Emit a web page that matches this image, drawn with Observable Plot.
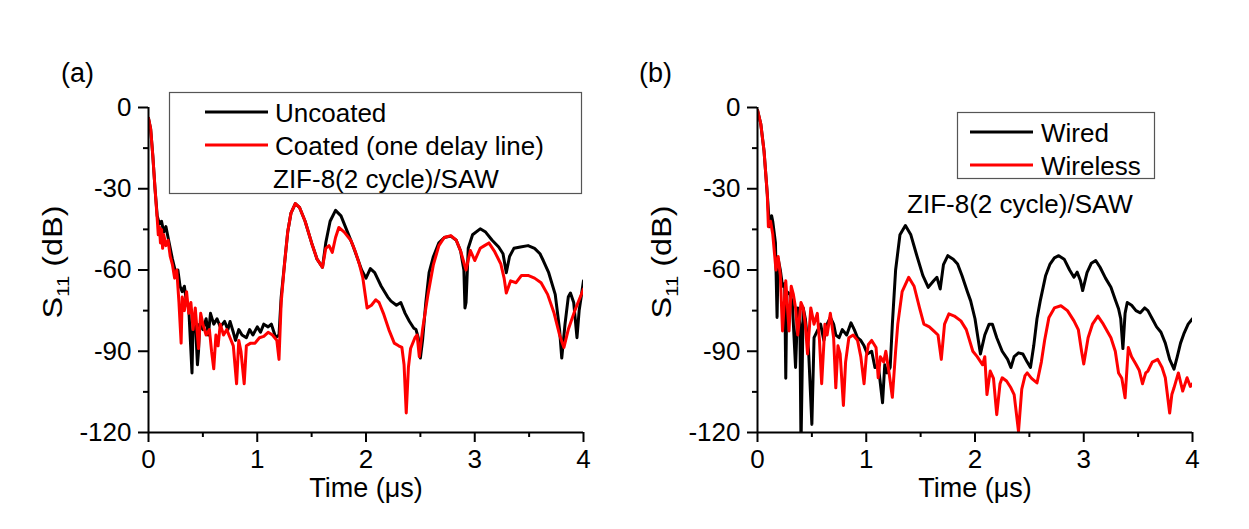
<!DOCTYPE html>
<html><head><meta charset="utf-8">
<script src="https://cdn.jsdelivr.net/npm/d3@7"></script>
<script src="https://cdn.jsdelivr.net/npm/@observablehq/plot@0.6"></script>
<style>
body{margin:0;background:#fff;font-family:"Liberation Sans",Arial,sans-serif;}
#wrap{position:relative;width:1249px;height:529px;overflow:hidden;background:#fff;}
#wrap > svg{position:absolute;top:0;}
</style>
</head><body><div id="wrap"></div>
<script>
// ---- tick values ----
const timeTicks = [0, 1, 2, 3, 4];
const timeMinor = [0.5, 1.5, 2.5, 3.5];
const dbTicks = [0, -30, -60, -90, -120];
const dbMinor = [-15, -45, -75, -105];

// ---- legend / labels ----
const panelLabels = ["(a)", "(b)"];
const legendA = ["Uncoated", "Coated (one delay line)"];
const legendB = ["Wired", "Wireless"];
const sampleNote = "ZIF-8(2 cycle)/SAW";
const xTitle = "Time (μs)";
const seriesColors = ["#000000", "#ff0000"];

// ---- panel (a): [time µs, S11 dB] ----
const aUncoated = [[0,-4],[0.02,-8],[0.04,-18],[0.06,-30],[0.08,-40],[0.10,-43],[0.12,-42],[0.14,-46],[0.16,-44],[0.18,-48],[0.20,-52],[0.22,-56],[0.25,-61],[0.27,-60],[0.29,-66],[0.31,-68],[0.33,-66],[0.35,-72],[0.37,-74],[0.39,-90],[0.40,-98],[0.41,-80],[0.43,-78],[0.45,-95],[0.46,-90],[0.47,-80],[0.50,-82],[0.53,-78],[0.55,-84],[0.57,-76],[0.60,-80],[0.63,-78],[0.66,-81],[0.70,-79],[0.73,-82],[0.75,-79],[0.78,-83],[0.80,-86],[0.83,-82],[0.86,-84],[0.90,-85],[0.93,-82],[0.96,-84],[1.00,-81],[1.03,-83],[1.06,-80],[1.10,-81],[1.13,-80],[1.17,-85],[1.20,-84],[1.22,-70],[1.25,-58],[1.28,-46],[1.31,-39],[1.35,-35.5],[1.39,-37],[1.44,-42],[1.50,-50],[1.55,-56],[1.60,-59],[1.63,-50],[1.67,-42],[1.72,-38],[1.77,-40],[1.82,-45],[1.88,-51],[1.92,-55.5],[1.96,-60],[2.00,-63],[2.04,-59.5],[2.08,-61],[2.14,-66],[2.20,-70],[2.23,-71.5],[2.28,-73],[2.32,-72],[2.36,-76],[2.40,-79],[2.44,-81.5],[2.46,-82],[2.48,-85],[2.50,-92.5],[2.52,-86],[2.55,-72],[2.58,-61],[2.62,-55],[2.67,-50],[2.72,-48],[2.78,-47.5],[2.83,-49],[2.87,-53],[2.90,-60],[2.91,-74],[2.92,-72],[2.94,-52],[2.98,-47],[3.05,-44.8],[3.10,-46],[3.16,-49],[3.22,-51.5],[3.26,-54],[3.29,-61],[3.32,-55],[3.36,-52],[3.42,-51.5],[3.49,-51],[3.55,-52],[3.60,-54],[3.63,-56.5],[3.68,-61],[3.74,-69],[3.78,-82],[3.80,-92.5],[3.83,-80],[3.86,-70],[3.88,-68.5],[3.91,-72],[3.94,-85],[3.96,-75],[4.0,-64]];
const aCoated = [[0,-4],[0.02,-8],[0.04,-18],[0.06,-30],[0.08,-41],[0.09,-47],[0.10,-44],[0.11,-50],[0.12,-45],[0.13,-52],[0.14,-47],[0.16,-51],[0.18,-49],[0.20,-55],[0.22,-58],[0.24,-63],[0.26,-60],[0.28,-72],[0.30,-87],[0.31,-70],[0.33,-75],[0.35,-68],[0.37,-76],[0.39,-72],[0.41,-82],[0.43,-74],[0.46,-89],[0.48,-76],[0.50,-80],[0.53,-84],[0.56,-82],[0.58,-90],[0.60,-96.5],[0.62,-84],[0.64,-88],[0.66,-80],[0.69,-84],[0.72,-82],[0.75,-85],[0.78,-88],[0.81,-102],[0.83,-86],[0.85,-90],[0.88,-102],[0.90,-88],[0.94,-87],[0.98,-87],[1.02,-85],[1.06,-84.5],[1.10,-83],[1.14,-84],[1.18,-86],[1.20,-93],[1.22,-72],[1.25,-58],[1.28,-46],[1.31,-39],[1.35,-35.5],[1.39,-37],[1.44,-42],[1.50,-50],[1.55,-56],[1.60,-59],[1.63,-52],[1.66,-51],[1.69,-53.5],[1.72,-48],[1.75,-44.3],[1.80,-46],[1.86,-49],[1.90,-53],[1.94,-58],[1.97,-62.7],[2.01,-74],[2.05,-73],[2.09,-71],[2.12,-72],[2.16,-76],[2.21,-82],[2.26,-87],[2.30,-88],[2.33,-88.6],[2.35,-95],[2.37,-112.8],[2.39,-96],[2.41,-89],[2.45,-85],[2.47,-84],[2.49,-92],[2.52,-82],[2.57,-69],[2.62,-58],[2.67,-51],[2.72,-48],[2.78,-47.3],[2.83,-49],[2.87,-53],[2.92,-60],[2.96,-52.8],[3.00,-56.5],[3.05,-52],[3.09,-51],[3.13,-50],[3.18,-53],[3.24,-57.8],[3.27,-63],[3.29,-68.5],[3.33,-64],[3.38,-64.7],[3.43,-62],[3.49,-62],[3.55,-63],[3.61,-64.7],[3.67,-69],[3.73,-76],[3.78,-84],[3.82,-88.6],[3.86,-82],[3.92,-75],[3.96,-71],[4.0,-67]];

// ---- panel (b): [time µs, S11 dB] ----
const bWired = [[0,-1],[0.03,-6],[0.06,-16],[0.09,-32],[0.11,-44],[0.13,-40],[0.14,-42],[0.165,-50],[0.18,-77.5],[0.19,-56],[0.21,-60],[0.23,-66],[0.25,-65],[0.26,-100],[0.27,-68],[0.30,-69],[0.32,-72],[0.35,-96],[0.37,-74],[0.39,-80],[0.40,-125],[0.42,-74],[0.44,-78],[0.47,-90],[0.50,-117],[0.52,-85],[0.55,-82.5],[0.58,-80],[0.61,-86],[0.64,-80],[0.67,-77.5],[0.70,-80],[0.72,-84],[0.75,-85],[0.78,-82],[0.82,-84],[0.86,-79.5],[0.89,-82],[0.92,-85],[0.95,-86],[0.98,-88],[1.01,-91],[1.05,-90],[1.08,-96],[1.11,-95],[1.15,-109],[1.17,-95],[1.19,-98],[1.22,-96],[1.24,-80],[1.27,-60],[1.31,-47],[1.36,-43.6],[1.41,-47],[1.46,-54],[1.52,-62],[1.57,-66.4],[1.62,-64],[1.65,-62.7],[1.68,-67],[1.71,-58],[1.75,-54.7],[1.80,-56],[1.84,-57.8],[1.88,-62],[1.93,-68],[1.96,-71.4],[2.00,-78],[2.05,-91],[2.09,-84],[2.13,-80],[2.16,-80],[2.20,-85],[2.25,-90],[2.30,-93],[2.33,-96],[2.36,-92],[2.40,-90.6],[2.44,-91],[2.48,-94],[2.51,-96],[2.54,-88],[2.57,-78],[2.60,-71.4],[2.65,-62],[2.69,-57.8],[2.73,-55.5],[2.77,-54.7],[2.82,-56],[2.87,-60],[2.91,-62.7],[2.94,-60.8],[2.97,-64],[2.99,-67.6],[3.03,-61],[3.07,-57.5],[3.11,-56.5],[3.15,-59],[3.20,-63],[3.25,-66.4],[3.29,-71],[3.32,-74.3],[3.34,-78],[3.36,-89],[3.38,-76],[3.40,-72],[3.44,-73],[3.48,-75],[3.52,-75.8],[3.56,-74],[3.59,-75],[3.63,-78],[3.67,-81],[3.71,-83],[3.75,-87],[3.79,-93],[3.83,-96.6],[3.86,-92],[3.89,-87],[3.92,-83.6],[3.96,-80],[4.0,-78]];
const bWireless = [[0,-1],[0.03,-6],[0.06,-16],[0.09,-32],[0.10,-44],[0.12,-42],[0.14,-46.7],[0.17,-60],[0.19,-55],[0.21,-62],[0.23,-82.5],[0.26,-64],[0.29,-82.5],[0.31,-66],[0.33,-69],[0.35,-74],[0.37,-84],[0.40,-72],[0.42,-74],[0.44,-80],[0.46,-91],[0.49,-74],[0.52,-80],[0.55,-76],[0.57,-86],[0.59,-102],[0.62,-80],[0.64,-84],[0.67,-76],[0.70,-85],[0.72,-103.5],[0.74,-88],[0.76,-91],[0.79,-110],[0.81,-94],[0.84,-85],[0.88,-84],[0.92,-86],[0.95,-92],[0.98,-102],[1.00,-92],[1.02,-87.5],[1.05,-86],[1.09,-88.6],[1.11,-99.8],[1.13,-92],[1.16,-94],[1.18,-90],[1.21,-98],[1.24,-107],[1.27,-90],[1.29,-80],[1.33,-68],[1.39,-62.7],[1.44,-66],[1.49,-74],[1.53,-80],[1.58,-81],[1.62,-82.5],[1.66,-84],[1.69,-93],[1.72,-80],[1.76,-76.2],[1.81,-77],[1.87,-78.8],[1.92,-82],[1.98,-90],[2.02,-92],[2.07,-95],[2.09,-92],[2.11,-106],[2.14,-97.3],[2.17,-100],[2.20,-113.4],[2.23,-102],[2.25,-99.8],[2.29,-101],[2.33,-103.5],[2.36,-106],[2.40,-119.6],[2.43,-104],[2.46,-99],[2.48,-98],[2.52,-100],[2.57,-101.7],[2.61,-94],[2.64,-86],[2.68,-77.5],[2.73,-74],[2.79,-73.2],[2.85,-75],[2.91,-78.8],[2.95,-82],[2.98,-90],[3.00,-94.7],[3.04,-85],[3.08,-80],[3.13,-77],[3.18,-80],[3.25,-85],[3.29,-90],[3.32,-98],[3.35,-100],[3.38,-107.2],[3.41,-88.6],[3.44,-92],[3.48,-94.8],[3.51,-97],[3.54,-102],[3.57,-98],[3.59,-97.3],[3.63,-94],[3.68,-93],[3.72,-96],[3.75,-99.8],[3.79,-112.8],[3.81,-106],[3.83,-103.5],[3.87,-98],[3.91,-104.7],[3.95,-99.8],[3.98,-103],[4.0,-102]];

const FONT = "Liberation Sans, Arial, Helvetica, sans-serif";

function makePanel(seriesList) {
  const rows = [];
  seriesList.forEach((s, i) => s.forEach(([t, v]) => rows.push({t, v, k: i})));
  const svg = Plot.plot({
    width: 620, height: 529,
    marginLeft: 148, marginRight: 37, marginTop: 107, marginBottom: 97,
    style: {fontFamily: FONT, fontSize: "25px", color: "#000", background: "transparent", overflow: "visible"},
    x: {domain: [0, 4]},
    y: {domain: [-120, 0]},
    marks: [
      Plot.line(rows, {x: "t", y: "v", z: "k", stroke: d => seriesColors[d.k], strokeWidth: 3, clip: true, strokeLinejoin: "round"}),
      Plot.ruleX([0], {stroke: "#000", strokeWidth: 2}),
      Plot.ruleY([-120], {stroke: "#000", strokeWidth: 2}),
      Plot.axisX({ticks: timeTicks, tickSize: 10, tickPadding: 7, tickFormat: d => String(d), strokeWidth: 2, label: null, fontSize: 26}),
      Plot.axisX({ticks: timeMinor, tickSize: 5, tickFormat: () => "", strokeWidth: 2, label: null}),
      Plot.axisY({ticks: dbTicks, tickSize: 10, tickPadding: 7, tickFormat: d => String(d), strokeWidth: 2, label: null, fontSize: 26}),
      Plot.axisY({ticks: dbMinor, tickSize: 5, tickFormat: () => "", strokeWidth: 2, label: null}),
      Plot.text([xTitle], {frameAnchor: "bottom", dy: 64, fontSize: 27, fill: "#000"})
    ]
  });
  // y-axis title with subscript (stretched along reading direction as in the original)
  const g = d3.select(svg).append("text")
    .attr("transform", "translate(62,262) rotate(-90) scale(1.2,1)")
    .attr("text-anchor", "middle")
    .attr("font-family", FONT).attr("font-size", 27).attr("fill", "#000");
  g.append("tspan").text("S");
  g.append("tspan").attr("font-size", 17).attr("dy", 7).text("11");
  g.append("tspan").attr("dy", -7).text(" (dB)");
  return svg;
}

const wrap = document.getElementById("wrap");
const svgA = makePanel([aUncoated, aCoated]);
svgA.style.left = "0px";
wrap.appendChild(svgA);
const svgB = makePanel([bWired, bWireless]);
svgB.style.left = "609px";
wrap.appendChild(svgB);

// overlay: panel labels and legends
const ov = d3.select(wrap).append("svg").attr("width", 1249).attr("height", 529)
  .style("position", "absolute").style("left", 0).style("top", 0)
  .attr("font-family", FONT).attr("font-size", 26).attr("fill", "#000");
ov.append("text").attr("x", 61).attr("y", 82).attr("font-size", 27).text(panelLabels[0]);
ov.append("text").attr("x", 639).attr("y", 82).attr("font-size", 27).text(panelLabels[1]);

// legend (a)
ov.append("rect").attr("x", 169.5).attr("y", 92.5).attr("width", 412).attr("height", 101)
  .attr("fill", "#fff").attr("stroke", "#555").attr("stroke-width", 1.2);
legendA.forEach((name, i) => {
  const y = 112 + i * 33;
  ov.append("line").attr("x1", 205).attr("x2", 268).attr("y1", y).attr("y2", y)
    .attr("stroke", seriesColors[i]).attr("stroke-width", 3);
  ov.append("text").attr("x", 275).attr("y", y + 9.5).text(name);
});
ov.append("text").attr("x", 273).attr("y", 187.5).text(sampleNote);

// legend (b)
ov.append("rect").attr("x", 957.5).attr("y", 112.5).attr("width", 197).attr("height", 66)
  .attr("fill", "#fff").attr("stroke", "#555").attr("stroke-width", 1.2);
legendB.forEach((name, i) => {
  const y = 132 + i * 33;
  ov.append("line").attr("x1", 970).attr("x2", 1033).attr("y1", y).attr("y2", y)
    .attr("stroke", seriesColors[i]).attr("stroke-width", 3);
  ov.append("text").attr("x", 1041).attr("y", y + 9.5).text(name);
});
ov.append("text").attr("x", 1020).attr("y", 212.5).attr("text-anchor", "middle").text(sampleNote);
</script>
</body></html>
